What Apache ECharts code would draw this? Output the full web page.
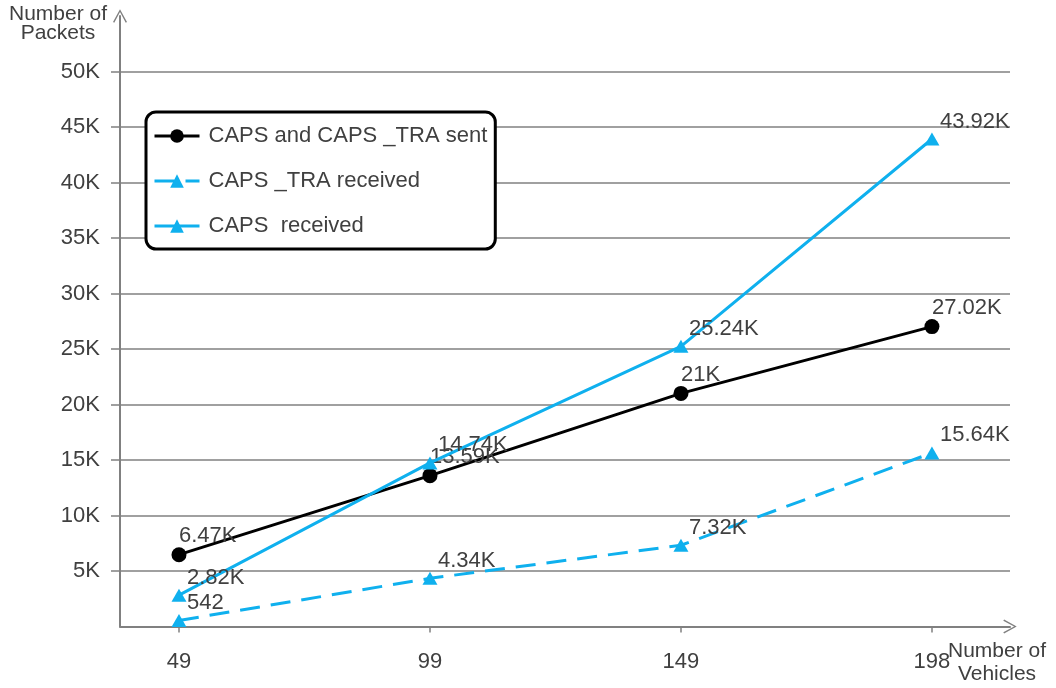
<!DOCTYPE html>
<html>
<head>
<meta charset="utf-8">
<script src="https://cdn.jsdelivr.net/npm/echarts@6/dist/echarts.min.js"></script>
<style>
  html, body { margin: 0; padding: 0; background: #fff; }
  #chart { width: 1056px; height: 688px; }
</style>
</head>
<body>
<div id="chart"></div>
<script>
// Vehicle counts on the x axis (evenly spaced positions)
const vehicles = ['49', '99', '149', '198'];

// Packet counts per series
const sentAll = [6470, 13590, 21000, 27020];
const traReceived = [542, 4340, 7320, 15640];
const capsReceived = [2820, 14740, 25240, 43920];

// Series names shown in the legend
const seriesNames = ['CAPS and CAPS _TRA sent', 'CAPS _TRA received', 'CAPS  received'];

// Y tick values that carry a label
const yTickLabels = [5000, 10000, 15000, 20000, 25000, 30000, 35000, 40000, 45000, 50000];

const FONT = "'Liberation Sans', Arial, sans-serif";
const FS = 22;
const TEXT = '#404040';
const AXIS = '#808080';
const BLUE = '#0fb0ee';
const CHEVRON = 'path://M10,0 L20,18 L18.2,19.2 L10,3.8 L1.8,19.2 L0,18 Z';

function kFormat(v) {
  if (v >= 1000) return parseFloat((v / 1000).toFixed(2)) + 'K';
  return String(v);
}

function toPairs(values) {
  return values.map((v, i) => [i, v]);
}

const chart = echarts.init(document.getElementById('chart'), null, { renderer: 'canvas' });

const labelBase = {
  show: true,
  position: 'top',
  distance: 0,
  align: 'left',
  fontFamily: FONT,
  fontSize: FS,
  color: TEXT
};

chart.setOption({
  animation: false,
  backgroundColor: '#fff',
  grid: {
    left: 120, right: 46, top: 16, bottom: 61.5,
    containLabel: false,
    outerBoundsMode: 'none'
  },
  legend: {
    orient: 'vertical',
    left: 146,
    top: 112,
    padding: [13, 8, 12, 7],
    itemGap: 23,
    itemWidth: 45,
    itemHeight: 17,
    borderColor: '#000',
    borderWidth: 3,
    borderRadius: 10,
    backgroundColor: '#fff',
    lineStyle: { width: 3 },
    textStyle: { fontFamily: FONT, fontSize: FS, color: TEXT, padding: [0, 0, 0, 4] },
    data: seriesNames
  },
  xAxis: {
    type: 'value',
    min: -0.235,
    max: 3.311,
    name: 'Number of\nVehicles',
    nameLocation: 'end',
    nameGap: -13,
    nameMoveOverlap: false,
    nameTextStyle: {
      fontFamily: FONT, fontSize: 21, color: TEXT,
      align: 'center', verticalAlign: 'top', lineHeight: 23, padding: [13, 0, 0, 0]
    },
    splitLine: { show: false },
    axisLine: {
      show: true,
      onZero: false,
      lineStyle: { color: AXIS, width: 2 },
      symbol: ['none', CHEVRON],
      symbolSize: [14, 14]
    },
    axisTick: {
      show: true, length: 6, inside: false,
      customValues: [0, 1, 2, 3],
      lineStyle: { color: AXIS, width: 1.5 }
    },
    axisLabel: {
      customValues: [0, 1, 2, 3],
      formatter: (v) => vehicles[Math.round(v)] || '',
      margin: 24,
      fontFamily: FONT, fontSize: FS, color: TEXT
    }
  },
  yAxis: {
    type: 'value',
    min: 0,
    max: 55000,
    interval: 5000,
    name: 'Number of\nPackets',
    nameLocation: 'end',
    nameGap: 11,
    nameMoveOverlap: false,
    nameTextStyle: {
      fontFamily: FONT, fontSize: 21, color: TEXT,
      align: 'center', verticalAlign: 'top', lineHeight: 19, padding: [0, 124, 0, 0]
    },
    axisLine: {
      show: true,
      onZero: false,
      lineStyle: { color: AXIS, width: 2 },
      symbol: ['none', CHEVRON],
      symbolSize: [14, 14]
    },
    axisTick: {
      show: true, length: 9,
      customValues: yTickLabels,
      lineStyle: { color: AXIS, width: 1.5 }
    },
    splitLine: {
      show: true,
      lineStyle: { color: AXIS, width: 1.5 }
    },
    axisLabel: {
      customValues: yTickLabels,
      formatter: (v) => kFormat(v),
      margin: 20,
      fontFamily: FONT, fontSize: FS, color: TEXT
    }
  },
  series: [
    {
      name: seriesNames[0],
      type: 'line',
      data: toPairs(sentAll),
      symbol: 'circle',
      symbolSize: 15,
      itemStyle: { color: '#000' },
      lineStyle: { color: '#000', width: 3 },
      label: Object.assign({}, labelBase, { offset: [0, 0], formatter: (p) => kFormat(p.value[1]) }),
      z: 3
    },
    {
      name: seriesNames[1],
      type: 'line',
      data: toPairs(traReceived),
      symbol: 'triangle',
      symbolSize: [15, 13],
      itemStyle: { color: BLUE },
      lineStyle: { color: BLUE, width: 3, type: [20, 11] },
      label: Object.assign({}, labelBase, { offset: [8, 0], formatter: (p) => kFormat(p.value[1]) }),
      z: 4
    },
    {
      name: seriesNames[2],
      type: 'line',
      data: toPairs(capsReceived),
      symbol: 'triangle',
      symbolSize: [15, 13],
      itemStyle: { color: BLUE },
      lineStyle: { color: BLUE, width: 3 },
      label: Object.assign({}, labelBase, { offset: [8, 0], formatter: (p) => kFormat(p.value[1]) }),
      z: 5
    }
  ]
});
</script>
</body>
</html>
